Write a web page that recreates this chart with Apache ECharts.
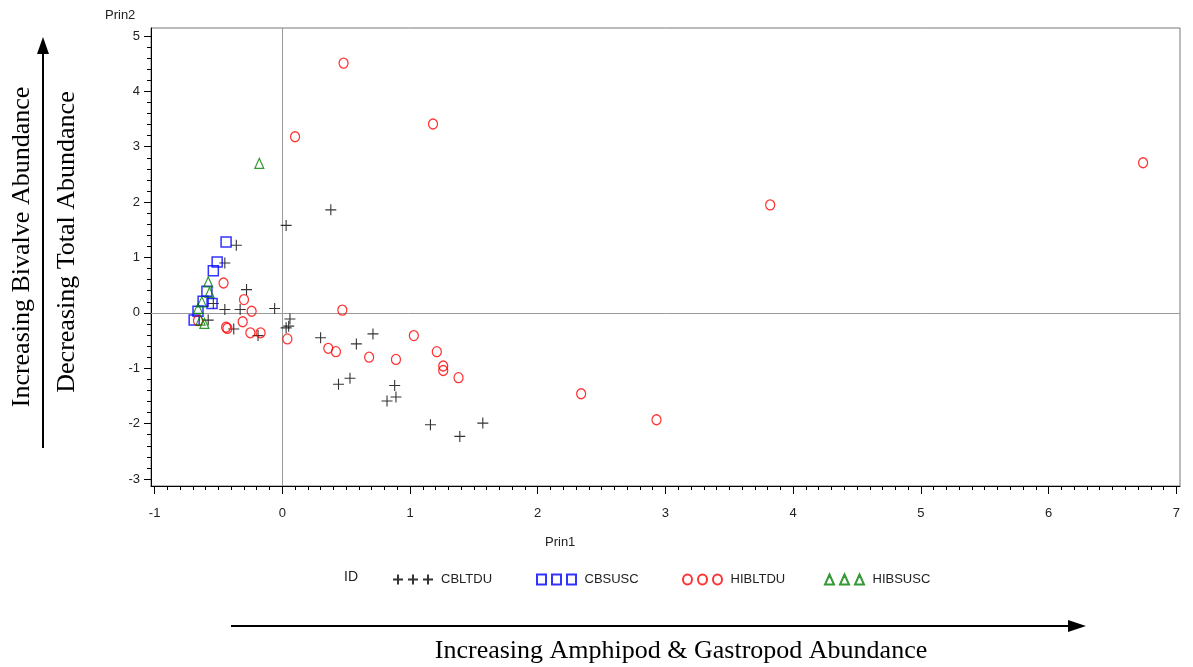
<!DOCTYPE html>
<html>
<head>
<meta charset="utf-8">
<script src="https://cdn.jsdelivr.net/npm/echarts@6/dist/echarts.min.js"></script>
<style>
html,body{margin:0;padding:0;background:#fff;}
#chart{width:1193px;height:667px;}
</style>
</head>
<body>
<div id="chart"></div>
<script>
// ---- data ----
const cbltdu = [[-0.36,1.22],[-0.45,0.90],[0.03,1.58],[0.38,1.86],[-0.28,0.42],[-0.45,0.06],[-0.33,0.06],[-0.06,0.08],[-0.54,0.17],[-0.58,-0.13],[-0.38,-0.29],[-0.19,-0.41],[0.06,-0.11],[0.03,-0.27],[0.05,-0.24],[0.30,-0.45],[0.71,-0.38],[0.58,-0.56],[0.44,-1.29],[0.53,-1.18],[0.88,-1.31],[0.89,-1.52],[0.82,-1.59],[1.16,-2.02],[1.39,-2.23],[1.57,-1.99]];
const cbsusc = [[-0.44,1.28],[-0.51,0.92],[-0.54,0.76],[-0.59,0.39],[-0.62,0.21],[-0.55,0.17],[-0.66,0.03],[-0.69,-0.13]];
const hibltdu = [[0.48,4.51],[1.18,3.41],[0.10,3.18],[6.74,2.71],[3.82,1.95],[0.47,0.05],[-0.46,0.54],[-0.30,0.24],[-0.24,0.03],[-0.31,-0.16],[-0.44,-0.26],[-0.43,-0.28],[-0.25,-0.36],[-0.17,-0.36],[0.04,-0.47],[0.36,-0.64],[0.42,-0.70],[0.68,-0.80],[0.89,-0.84],[1.03,-0.41],[1.21,-0.70],[1.26,-0.96],[1.26,-1.04],[1.38,-1.17],[2.34,-1.46],[2.93,-1.93],[-0.66,-0.14]];
const hibsusc = [[-0.18,2.70],[-0.58,0.56],[-0.57,0.37],[-0.63,0.20],[-0.66,0.08],[-0.64,-0.13],[-0.61,-0.19]];
const seriesNames = ['CBLTDU','CBSUSC','HIBLTDU','HIBSUSC'];
const xTicks = [-1,0,1,2,3,4,5,6,7];
const yTicks = [-3,-2,-1,0,1,2,3,4,5];
const xMinorStep = 0.1;
const yMinorStep = 0.2;
const xTitle = 'Prin1', yTitle = 'Prin2', legendTitle = 'ID';
const leftTitle1 = 'Increasing Bivalve Abundance';
const leftTitle2 = 'Decreasing Total Abundance';
const bottomTitle = 'Increasing Amphipod & Gastropod Abundance';

function minors(ticks, step){
  const out=[];
  for(let i=0;i<ticks.length-1;i++){
    const n=Math.round((ticks[i+1]-ticks[i])/step);
    for(let k=1;k<n;k++) out.push(+(ticks[i]+k*step).toFixed(4));
  }
  return out;
}
const xMin=-1.028, xMax=7.029, yMin=-3.126, yMax=5.144;
const sans = 'Arial, "Liberation Sans", sans-serif';
const serif = '"Times New Roman", "Liberation Serif", serif';

const plusPath = 'path://M0,5H10M5,0V10';
const plus3 = 'path://M0,5H10M5,0V10M15,5H25M20,0V10M30,5H40M35,0V10';
const sq3 = 'path://M0,0H9V10H0ZM15,0H24V10H15ZM30,0H39V10H30Z';
const circ3 = 'path://M0,5A4.5,5 0 1,0 9,5A4.5,5 0 1,0 0,5ZM15,5A4.5,5 0 1,0 24,5A4.5,5 0 1,0 15,5ZM30,5A4.5,5 0 1,0 39,5A4.5,5 0 1,0 30,5Z';
const tri3 = 'path://M4.5,0L9,10H0ZM19.5,0L24,10H15ZM34.5,0L39,10H30Z';

const chart = echarts.init(document.getElementById('chart'));
const legendBase = {orient:'horizontal', itemWidth:40, itemHeight:10, top:568, textStyle:{fontFamily:sans,fontSize:13,color:'#222',padding:[0,0,0,3]}, selectedMode:false};
chart.setOption({
  animation:false,
  backgroundColor:'#fff',
  grid:{left:151, top:28, right:13, bottom:181, show:true, borderColor:'#777', borderWidth:1, backgroundColor:'transparent'},
  xAxis:[
    {type:'value', min:xMin, max:xMax, position:'bottom',
     axisLine:{show:true,onZero:false,lineStyle:{color:'#000',width:1}},
     axisTick:{show:true,customValues:xTicks,length:8,lineStyle:{color:'#000'}},
     axisLabel:{show:true,customValues:xTicks,margin:21,color:'#222',fontFamily:sans,fontSize:13},
     splitLine:{show:false}},
    {type:'value', min:xMin, max:xMax, position:'bottom',
     axisLine:{show:false,onZero:false},
     axisTick:{show:true,customValues:minors(xTicks,xMinorStep),length:4,lineStyle:{color:'#000'}},
     axisLabel:{show:false}, splitLine:{show:false}}
  ],
  yAxis:[
    {type:'value', min:yMin, max:yMax, position:'left',
     axisLine:{show:true,onZero:false,lineStyle:{color:'#000',width:1}},
     axisTick:{show:true,customValues:yTicks,length:7,lineStyle:{color:'#000'}},
     axisLabel:{show:true,customValues:yTicks,margin:11,color:'#222',fontFamily:sans,fontSize:13},
     splitLine:{show:false}},
    {type:'value', min:yMin, max:yMax, position:'left',
     axisLine:{show:false,onZero:false},
     axisTick:{show:true,customValues:minors(yTicks,yMinorStep),length:4,lineStyle:{color:'#000'}},
     axisLabel:{show:false}, splitLine:{show:false}}
  ],
  legend:[
    Object.assign({left:387, data:[{name:seriesNames[0],icon:plus3}]}, legendBase),
    Object.assign({left:531, data:[{name:seriesNames[1],icon:sq3}]}, legendBase),
    Object.assign({left:677, data:[{name:seriesNames[2],icon:circ3}]}, legendBase),
    Object.assign({left:819, data:[{name:seriesNames[3],icon:tri3}]}, legendBase)
  ],
  series:[
    {name:seriesNames[0], type:'scatter', data:cbltdu, symbol:plusPath, symbolSize:11,
     itemStyle:{color:'rgba(0,0,0,0)',borderColor:'#000',borderWidth:1.1}, z:3,
     markLine:{silent:true,symbol:'none',label:{show:false},lineStyle:{color:'#999',type:'solid',width:1},
       data:[{xAxis:0},{yAxis:0}], z:1, animation:false}},
    {name:seriesNames[1], type:'scatter', data:cbsusc, symbol:'rect', symbolSize:10,
     itemStyle:{color:'rgba(0,0,0,0)',borderColor:'#0000ff',borderWidth:1.5}, z:4},
    {name:seriesNames[2], type:'scatter', data:hibltdu, symbol:'circle', symbolSize:[9,10],
     itemStyle:{color:'rgba(0,0,0,0)',borderColor:'#ff0000',borderWidth:1.3}, z:5},
    {name:seriesNames[3], type:'scatter', data:hibsusc, symbol:'triangle', symbolSize:[9,10],
     itemStyle:{color:'rgba(0,0,0,0)',borderColor:'#008000',borderWidth:1.2}, z:6}
  ],
  graphic:[
    {type:'text', left:105, top:9, style:{text:yTitle, font:'13px '+sans, fill:'#222'}},
    {type:'text', left:545, top:536, style:{text:xTitle, font:'13px '+sans, fill:'#222'}},
    {type:'text', left:344, top:570, style:{text:legendTitle, font:'14px '+sans, fill:'#222'}},
    {type:'text', x:22, y:247, rotation:Math.PI/2, style:{text:leftTitle1, font:'26px '+serif, fill:'#000', align:'center', verticalAlign:'middle'}},
    {type:'text', x:67, y:242, rotation:Math.PI/2, style:{text:leftTitle2, font:'26px '+serif, fill:'#000', align:'center', verticalAlign:'middle'}},
    {type:'text', x:681, y:651, style:{text:bottomTitle, font:'26px '+serif, fill:'#000', align:'center', verticalAlign:'middle'}},
    {type:'line', shape:{x1:43,y1:448,x2:43,y2:52}, style:{stroke:'#000',lineWidth:2}},
    {type:'polygon', shape:{points:[[43,37],[37,54],[49,54]]}, style:{fill:'#000'}},
    {type:'line', shape:{x1:231,y1:626,x2:1070,y2:626}, style:{stroke:'#000',lineWidth:2}},
    {type:'polygon', shape:{points:[[1086,626],[1068,620],[1068,632]]}, style:{fill:'#000'}}
  ]
});
</script>
</body>
</html>
